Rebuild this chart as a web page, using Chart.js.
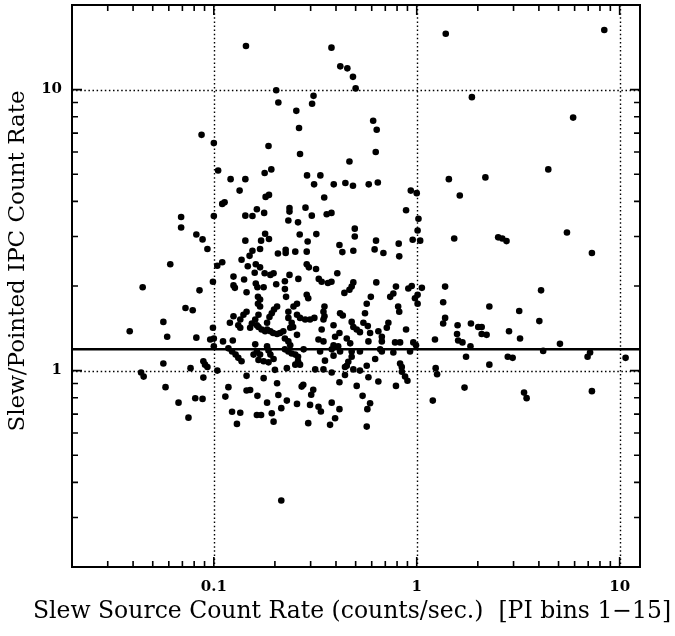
<!DOCTYPE html>
<html>
<head>
<meta charset="utf-8">
<script src="https://cdn.jsdelivr.net/npm/chart.js@4.4.1/dist/chart.umd.min.js"></script>
<style>
  html, body { margin: 0; padding: 0; background: #fff; }
  #wrap { width: 675px; height: 636px; }
</style>
</head>
<body>
<div id="wrap"><canvas id="chart" width="675" height="636"></canvas></div>
<script>
// axis ranges and labelled ticks
const xRange = [0.02, 12.6];
const yRange = [0.2, 20];
const xMajorTicks = [0.1, 1, 10];
const yMajorTicks = [1, 10];
const decades = [0.01, 0.1, 1, 10];
const refLevel = 1.19;   // solid horizontal line

const xTitle = 'Slew Source Count Rate (counts/sec.)  [PI bins 1\u221215]';
const yTitle = 'Slew/Pointed IPC Count Rate';

// [slew count rate, slew/pointed ratio]
const sources = [
  // upper part
  [0.144,14.3],[0.38,14.1],[0.42,12.1],[0.455,11.9],[0.485,11.1],[0.50,10.1],[0.203,9.95],[0.31,9.5],
  [0.208,9.0],[0.305,8.9],[0.255,8.4],[0.263,7.3],[0.087,6.9],[0.1,6.45],[0.186,6.3],[1.39,15.8],
  [8.4,16.3],[1.87,9.4],[0.61,7.75],[0.635,7.2],[5.9,7.95],
  [0.266,5.9],[0.628,6.0],[0.466,5.55],[4.45,5.2],[0.105,5.15],[0.178,5.05],[0.192,5.2],[0.288,4.95],
  [0.335,4.95],[0.121,4.8],[0.143,4.8],[0.312,4.6],[0.39,4.6],[0.445,4.65],[0.485,4.55],[0.58,4.6],
  [0.643,4.67],[1.44,4.8],[2.18,4.87],[0.134,4.37],[0.18,4.15],[0.187,4.22],[0.35,4.13],[0.935,4.37],
  [1.0,4.28],[1.63,4.2],
  [0.11,3.92],[0.113,3.97],[0.236,3.79],[0.236,3.68],[0.283,3.8],[0.163,3.75],[0.177,3.64],[0.1,3.55],
  [0.143,3.56],[0.155,3.55],[0.304,3.56],[0.36,3.6],[0.38,3.64],[0.886,3.72],[0.069,3.52],[0.069,3.23],
  [0.233,3.42],[0.26,3.37],[1.02,3.47],[0.495,3.2],[0.495,3.0],[0.082,3.05],[0.088,2.93],[0.179,3.07],
  [0.187,2.94],[0.171,2.9],[0.265,3.05],[0.32,3.06],[0.143,2.9],[0.29,2.88],[0.416,2.8],[1.01,3.15],
  [0.955,2.92],[1.04,2.9],[1.53,2.95],[2.52,2.98],[2.64,2.95],[2.77,2.89],[5.5,3.1],[0.63,2.9],
  [0.815,2.83],[0.093,2.71],[0.155,2.67],[0.169,2.71],[0.207,2.61],[0.226,2.69],[0.226,2.62],[0.252,2.65],
  [0.287,2.65],[0.43,2.64],[0.487,2.67],[0.62,2.7],[0.685,2.62],[7.3,2.62],[0.15,2.56],[0.82,2.55],
  // around 2
  [0.061,2.39],[0.104,2.36],[0.11,2.43],[0.137,2.48],[0.161,2.39],[0.147,2.35],[0.169,2.33],[0.287,2.39],
  [0.294,2.33],[0.319,2.3],[0.159,2.23],[0.178,2.22],[0.19,2.19],[0.197,2.22],[0.125,2.16],[0.141,2.11],
  [0.236,2.19],[0.261,2.12],[0.329,2.12],[0.406,2.22],[0.34,2.07],[0.365,2.05],[0.38,2.07],[0.487,2.06],
  [0.0446,1.98],[0.085,1.93],[0.099,2.07],[0.125,2.01],[0.127,1.97],[0.161,2.04],[0.164,1.98],[0.176,1.98],
  [0.203,2.03],[0.224,2.08],[0.224,1.95],[0.227,1.83],[0.145,1.9],[0.478,1.99],[0.466,1.94],[0.44,1.89],
  [0.632,2.06],[0.594,1.83],[0.567,1.73],[0.79,1.99],[0.767,1.88],[0.74,1.83],[0.909,1.96],[0.945,2.0],
  [1.06,1.97],[1.38,1.99],[0.98,1.81],[1.01,1.73],[1.01,1.86],[4.1,1.93],[0.287,1.86],[0.292,1.81],
  // 1.2 - 1.8
  [0.257,1.73],[0.351,1.69],[0.81,1.69],[0.82,1.62],[0.556,1.6],[0.347,1.62],[0.351,1.56],[0.347,1.52],
  [0.257,1.58],[0.266,1.54],[0.282,1.52],[0.298,1.52],[0.313,1.54],[0.242,1.48],[0.246,1.43],[0.419,1.6],
  [0.432,1.57],[0.389,1.45],[0.478,1.49],[0.487,1.43],[0.506,1.4],[0.525,1.37],[0.546,1.48],[0.574,1.44],
  [0.589,1.36],[0.416,1.36],[0.396,1.32],[0.34,1.4],[0.257,1.34],[0.328,1.29],[0.347,1.27],[0.725,1.48],
  [0.712,1.42],[0.647,1.38],[0.673,1.32],[0.673,1.27],[0.886,1.4],[0.452,1.3],[0.47,1.25],[0.578,1.27],
  [0.782,1.26],[0.828,1.26],[0.389,1.23],[0.41,1.22],[0.962,1.26],[0.992,1.23],
  [0.165,1.83],[0.169,1.79],[0.165,1.73],[0.169,1.69],[0.145,1.62],[0.14,1.58],[0.125,1.56],[0.12,1.48],
  [0.205,1.69],[0.198,1.65],[0.193,1.6],[0.188,1.55],[0.183,1.48],[0.166,1.58],[0.16,1.52],[0.154,1.47],
  [0.151,1.42],[0.163,1.45],[0.135,1.52],[0.132,1.45],[0.135,1.42],[0.247,1.69],[0.233,1.62],[0.233,1.54],
  [0.183,1.4],[0.19,1.38],[0.196,1.36],[0.205,1.35],[0.212,1.36],[0.22,1.38],[0.166,1.43],[0.172,1.4],
  [0.179,1.38],[0.238,1.42],[0.224,1.3],[0.233,1.27],[0.238,1.23],[0.0725,1.67],[0.0787,1.64],[0.099,1.42],
  [0.1,1.3],[0.082,1.31],[0.096,1.29],[0.111,1.27],[0.124,1.28],[0.1,1.22],[0.118,1.2],[0.123,1.17],
  [0.128,1.14],[0.132,1.11],[0.137,1.08],[0.16,1.24],[0.163,1.17],[0.157,1.14],[0.169,1.14],[0.183,1.22],
  [0.186,1.18],[0.19,1.14],[0.197,1.1],[0.166,1.09],[0.176,1.08],[0.186,1.07],[0.224,1.19],[0.233,1.17],
  [0.242,1.15],[0.252,1.14],[0.26,1.12],
  // around 1
  [0.26,1.08],[0.266,1.05],[0.252,1.05],[0.277,1.19],[0.334,1.17],[0.381,1.19],[0.419,1.17],[0.478,1.17],
  [0.525,1.17],[0.66,1.19],[0.673,1.17],[0.767,1.16],[0.927,1.17],[0.353,1.085],[0.389,1.13],[0.478,1.12],
  [0.46,1.075],[0.452,1.04],[0.443,1.03],[0.624,1.1],[0.567,1.04],[0.828,1.06],[0.844,1.03],[0.845,0.99],
  [0.876,0.952],[0.9,0.92],[0.316,1.01],[0.347,1.01],[0.381,0.984],[0.487,1.01],[0.525,1.0],[0.443,0.965],
  [0.578,0.947],[0.647,0.914],[0.416,0.909],[0.276,0.89],[0.271,0.877],[0.506,0.882],[0.79,0.882],[0.309,0.854],
  [0.302,0.82],[0.541,0.813],[0.589,0.765],[0.571,0.729],[0.257,0.761],[0.298,0.755],[0.328,0.744],[0.337,0.715],
  [0.381,0.769],[0.416,0.729],[0.396,0.677],[0.374,0.641],[0.292,0.65],[0.567,0.632],
  [0.0888,1.08],[0.0905,1.05],[0.093,1.03],[0.0768,1.02],[0.104,1.0],[0.145,0.958],[0.176,0.94],[0.2,1.006],
  [0.229,1.02],[0.0888,0.944],[0.205,0.902],[0.118,0.873],[0.145,0.849],[0.151,0.853],[0.114,0.808],[0.164,0.813],
  [0.208,0.819],[0.081,0.797],[0.088,0.793],[0.067,0.769],[0.183,0.769],[0.229,0.782],[0.215,0.735],[0.123,0.714],
  [0.135,0.708],[0.163,0.695],[0.171,0.695],[0.193,0.705],[0.197,0.658],[0.075,0.68],[0.13,0.646],
  // faint sources on the left
  [0.0564,1.49],[0.0385,1.38],[0.0589,1.32],[0.0564,1.06],[0.0438,0.984],[0.0451,0.952],[0.0578,0.873],
  // bright sources on the right
  [1.35,1.75],[2.28,1.69],[3.2,1.63],[1.38,1.54],[1.35,1.47],[1.59,1.45],[1.85,1.47],[2.01,1.43],
  [2.09,1.43],[4.02,1.5],[1.58,1.35],[2.09,1.35],[2.21,1.34],[2.85,1.38],[3.23,1.3],[1.23,1.29],
  [1.6,1.28],[1.68,1.26],[1.84,1.22],[5.08,1.245],[1.75,1.12],[2.81,1.12],[2.97,1.11],[2.28,1.05],
  [4.2,1.175],[6.95,1.12],[7.15,1.16],[10.7,1.11],[1.24,1.02],[1.26,0.97],[1.72,0.87],[3.38,0.835],
  [3.48,0.798],[7.3,0.845],[1.2,0.782],
  // low outlier
  [0.215,0.345]
];

const FONT = "'DejaVu Serif', 'Liberation Serif', serif";

// 1..9 times each decade, kept inside an axis range
function logTickValues(range) {
  const out = [];
  decades.forEach(d => {
    for (let m = 1; m <= 9; m++) {
      const v = m * d;
      if (v > range[0] * 1.0001 && v < range[1]) out.push({ v: v, major: m === 1 });
    }
  });
  return out;
}

// dotted grid at the decades, drawn under the points
const gridPlugin = {
  id: 'gridPlugin',
  beforeDatasetsDraw(chart) {
    const ctx = chart.ctx;
    const a = chart.chartArea;
    const sx = chart.scales.x, sy = chart.scales.y;
    ctx.save();
    ctx.strokeStyle = '#000';
    ctx.lineWidth = 1.4;
    ctx.setLineDash([1.5, 2.6]);
    xMajorTicks.forEach(v => {
      const px = Math.round(sx.getPixelForValue(v)) + 0.5;
      ctx.beginPath(); ctx.moveTo(px, a.top); ctx.lineTo(px, a.bottom); ctx.stroke();
    });
    yMajorTicks.forEach(v => {
      const py = Math.round(sy.getPixelForValue(v)) + 0.5;
      ctx.beginPath(); ctx.moveTo(a.left, py); ctx.lineTo(a.right, py); ctx.stroke();
    });
    ctx.restore();
  }
};

// frame, inward tick marks on all four sides, axis titles
const framePlugin = {
  id: 'framePlugin',
  afterDraw(chart) {
    const ctx = chart.ctx;
    const a = chart.chartArea;
    const sx = chart.scales.x, sy = chart.scales.y;
    ctx.save();
    ctx.setLineDash([]);
    ctx.strokeStyle = '#000';
    ctx.lineWidth = 2;
    ctx.strokeRect(a.left, a.top, a.right - a.left, a.bottom - a.top);

    ctx.lineWidth = 1.6;
    ctx.beginPath();
    logTickValues(xRange).forEach(t => {
      const px = sx.getPixelForValue(t.v);
      const len = t.major ? 10 : 6;
      ctx.moveTo(px, a.bottom);
      ctx.lineTo(px, a.bottom - len);
      ctx.moveTo(px, a.top);
      ctx.lineTo(px, a.top + len);
    });
    logTickValues(yRange).forEach(t => {
      const py = sy.getPixelForValue(t.v);
      const len = t.major ? 10 : 6;
      ctx.moveTo(a.left, py);
      ctx.lineTo(a.left + len, py);
      ctx.moveTo(a.right, py);
      ctx.lineTo(a.right - len, py);
    });
    ctx.stroke();

    ctx.fillStyle = '#000';
    ctx.textAlign = 'center';
    ctx.textBaseline = 'middle';
    ctx.font = '23.5px ' + FONT;
    ctx.fillText(xTitle, 352, 612);

    ctx.translate(18, 261);
    ctx.rotate(-Math.PI / 2);
    ctx.font = '23px ' + FONT;
    ctx.fillText(yTitle, 0, 0);
    ctx.restore();
  }
};

new Chart(document.getElementById('chart').getContext('2d'), {
  data: {
    datasets: [
      {
        type: 'line',
        data: [{ x: xRange[0], y: refLevel }, { x: xRange[1], y: refLevel }],
        borderColor: '#000',
        borderWidth: 2.5,
        pointRadius: 0
      },
      {
        type: 'scatter',
        data: sources.map(p => ({ x: p[0], y: p[1] })),
        backgroundColor: '#000',
        borderWidth: 0,
        pointRadius: 3.3,
        pointStyle: 'circle'
      }
    ]
  },
  options: {
    responsive: false,
    animation: false,
    layout: { padding: { top: 5, right: 35, left: 0, bottom: 0 } },
    plugins: {
      legend: { display: false },
      tooltip: { enabled: false }
    },
    scales: {
      x: {
        type: 'logarithmic',
        min: xRange[0],
        max: xRange[1],
        afterBuildTicks: s => { s.ticks = xMajorTicks.map(v => ({ value: v })); },
        afterFit: s => { s.height = 69; s.paddingLeft = 0; s.paddingRight = 0; },
        grid: { display: false, drawTicks: false },
        border: { display: false },
        ticks: {
          padding: 11,
          color: '#000',
          font: { family: FONT, size: 15, weight: 'bold' },
          callback: v => String(v)
        }
      },
      y: {
        type: 'logarithmic',
        min: yRange[0],
        max: yRange[1],
        afterBuildTicks: s => { s.ticks = yMajorTicks.map(v => ({ value: v })); },
        afterFit: s => { s.width = 72; s.paddingTop = 0; s.paddingBottom = 0; },
        grid: { display: false, drawTicks: false },
        border: { display: false },
        ticks: {
          padding: 10,
          color: '#000',
          font: { family: FONT, size: 15, weight: 'bold' },
          callback: v => String(v)
        }
      }
    }
  },
  plugins: [gridPlugin, framePlugin]
});
</script>
</body>
</html>
